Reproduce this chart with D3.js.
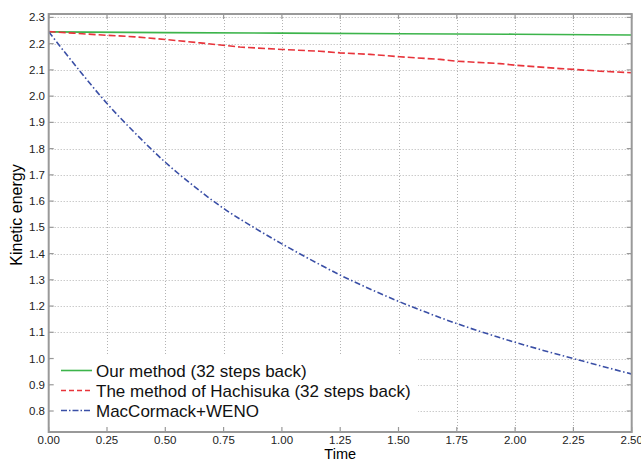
<!DOCTYPE html>
<html>
<head>
<meta charset="utf-8">
<script src="https://cdn.jsdelivr.net/npm/d3@7/dist/d3.min.js"></script>
<style>
  body { margin: 0; background: #fff; }
  text { font-family: "Liberation Sans", Arial, Helvetica, sans-serif; }
</style>
</head>
<body>
<div id="chart-area"></div>
<script>
// data
var ourTime   = [0, 0.5, 1.0, 1.5, 2.0, 2.5];
var ourEnergy = [2.245, 2.242, 2.240, 2.238, 2.236, 2.233];

var hachTime   = [0, 0.108, 0.207, 0.37, 0.5, 0.649, 0.82, 1.0, 1.163, 1.249, 1.378, 1.506, 1.678, 1.751, 1.935, 2.0, 2.193, 2.253, 2.364, 2.5];
var hachEnergy = [2.246, 2.240, 2.234, 2.226, 2.216, 2.203, 2.187, 2.178, 2.171, 2.165, 2.159, 2.150, 2.140, 2.133, 2.124, 2.118, 2.105, 2.102, 2.095, 2.089];

var macTime   = [0, 0.125, 0.25, 0.375, 0.5, 0.625, 0.75, 0.875, 1.0, 1.125, 1.25, 1.375, 1.5, 1.625, 1.75, 1.875, 2.0, 2.125, 2.25, 2.375, 2.5];
var macEnergy = [2.245, 2.105, 1.972, 1.855, 1.748, 1.655, 1.572, 1.502, 1.437, 1.376, 1.318, 1.266, 1.218, 1.174, 1.133, 1.096, 1.062, 1.030, 1.000, 0.970, 0.941];

var xTicks = [0, 0.25, 0.5, 0.75, 1.0, 1.25, 1.5, 1.75, 2.0, 2.25, 2.5];
var yTicks = [0.8, 0.9, 1.0, 1.1, 1.2, 1.3, 1.4, 1.5, 1.6, 1.7, 1.8, 1.9, 2.0, 2.1, 2.2, 2.3];

var series = [
    { name: "Our method (32 steps back)", t: ourTime, e: ourEnergy, color: "#3cb44b", dash: null },
    { name: "The method of Hachisuka (32 steps back)", t: hachTime, e: hachEnergy, color: "#e8343b", dash: "7,3" },
    { name: "MacCormack+WENO", t: macTime, e: macEnergy, color: "#3a4fa6", dash: "6,2.5,1.5,2.5" }
];

var width = 641, height = 463;
var plot = { left: 48.7, right: 631.7, top: 14, bottom: 432 };

var svg = d3.select("#chart-area")
    .append("svg")
        .attr("width", width)
        .attr("height", height);

var x = d3.scaleLinear().domain([0, 2.5]).range([plot.left, plot.right]);
var y = d3.scaleLinear().domain([0.72, 2.313]).range([plot.bottom, plot.top]);

// grid
var grid = svg.append("g")
    .attr("stroke", "#b3b3b3")
    .attr("stroke-width", 1)
    .attr("stroke-dasharray", "1,2");

grid.selectAll(".vgrid")
    .data(xTicks.slice(1, -1))
    .enter().append("line")
        .attr("x1", function(d){ return Math.round(x(d)) + 0.5; })
        .attr("x2", function(d){ return Math.round(x(d)) + 0.5; })
        .attr("y1", plot.top)
        .attr("y2", plot.bottom);

grid.selectAll(".hgrid")
    .data(yTicks)
    .enter().append("line")
        .attr("x1", plot.left)
        .attr("x2", plot.right)
        .attr("y1", function(d){ return Math.round(y(d)) + 0.5; })
        .attr("y2", function(d){ return Math.round(y(d)) + 0.5; });

// lines
var line = d3.line()
    .x(function(d){ return x(d[0]); })
    .y(function(d){ return y(d[1]); });

series.forEach(function(s) {
    var pts = s.t.map(function(t, i){ return [t, s.e[i]]; });
    svg.append("path")
        .datum(pts)
        .attr("fill", "none")
        .attr("stroke", s.color)
        .attr("stroke-width", 1.6)
        .attr("stroke-dasharray", s.dash)
        .attr("d", line.curve(s.name == "MacCormack+WENO" ? d3.curveMonotoneX : d3.curveLinear));
});

// legend box
var legend = svg.append("g");
legend.append("rect")
    .attr("x", plot.left + 1)
    .attr("y", 355)
    .attr("width", 417 - plot.left)
    .attr("height", plot.bottom - 355 - 1)
    .attr("fill", "#fff");

series.forEach(function(s, i) {
    var ly = 370.5 + i * 20;
    legend.append("line")
        .attr("x1", 61).attr("x2", 92)
        .attr("y1", ly).attr("y2", ly)
        .attr("stroke", s.color)
        .attr("stroke-width", 1.6)
        .attr("stroke-dasharray", s.dash == null ? null : (i == 1 ? "5,3" : "6,2,1.5,2"));
    legend.append("text")
        .attr("x", 96)
        .attr("y", ly + 6.2)
        .attr("font-size", "17px")
        .attr("fill", "#111")
        .text(s.name);
});

// frame and inward ticks
var axisColor = "#999";
svg.append("rect")
    .attr("x", plot.left).attr("y", plot.top)
    .attr("width", plot.right - plot.left).attr("height", plot.bottom - plot.top)
    .attr("fill", "none")
    .attr("stroke", axisColor)
    .attr("stroke-width", 2);

var ticks = svg.append("g").attr("stroke", axisColor).attr("stroke-width", 1.2);
xTicks.forEach(function(d) {
    ticks.append("line").attr("x1", x(d)).attr("x2", x(d)).attr("y1", plot.bottom).attr("y2", plot.bottom - 5);
    ticks.append("line").attr("x1", x(d)).attr("x2", x(d)).attr("y1", plot.top).attr("y2", plot.top + 5);
});
yTicks.forEach(function(d) {
    ticks.append("line").attr("x1", plot.left).attr("x2", plot.left + 5).attr("y1", y(d)).attr("y2", y(d));
    ticks.append("line").attr("x1", plot.right).attr("x2", plot.right - 5).attr("y1", y(d)).attr("y2", y(d));
});

// tick labels
svg.append("g").selectAll("text")
    .data(xTicks)
    .enter().append("text")
        .attr("x", function(d){ return x(d); })
        .attr("y", 444)
        .attr("text-anchor", "middle")
        .attr("font-size", "11.5px")
        .attr("fill", "#222")
        .text(function(d){ return d3.format(".2f")(d); });

svg.append("g").selectAll("text")
    .data(yTicks)
    .enter().append("text")
        .attr("x", 45)
        .attr("y", function(d){ return y(d) + 4; })
        .attr("text-anchor", "end")
        .attr("font-size", "11.5px")
        .attr("fill", "#222")
        .text(function(d){ return d3.format(".1f")(d); });

// axis labels
svg.append("text")
    .attr("x", (plot.left + plot.right) / 2)
    .attr("y", 459)
    .attr("text-anchor", "middle")
    .attr("font-size", "14.5px")
    .text("Time");

svg.append("text")
    .attr("transform", "translate(22," + 215 + ") rotate(-90)")
    .attr("text-anchor", "middle")
    .attr("font-size", "16px")
    .text("Kinetic energy");
</script>
</body>
</html>
